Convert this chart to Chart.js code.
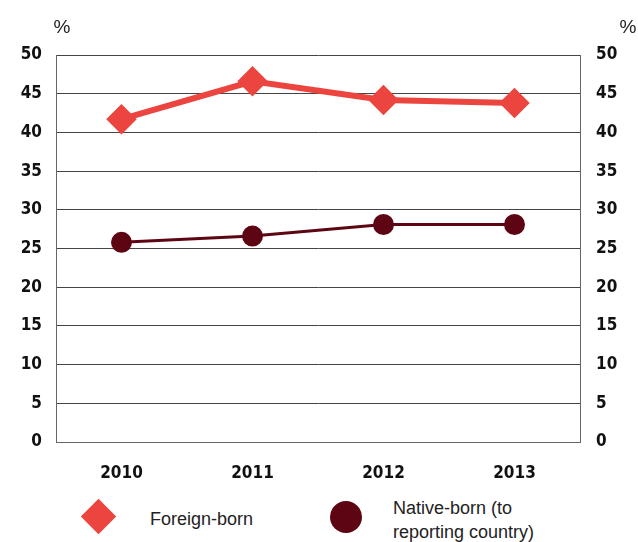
<!DOCTYPE html>
<html lang="en">
<head>
    <meta charset="UTF-8">
    <title>Foreign-born vs native-born</title>
    <script src="https://cdn.jsdelivr.net/npm/chart.js"></script>
    <style>
        body { margin: 0; background: #fff; font-family: "Liberation Sans", Arial, sans-serif; }
        .wrap { position: relative; width: 638px; height: 542px; }
        .leyenda { position: absolute; top: 492px; left: 0; width: 638px; height: 50px; color: #222; font-size: 18px; }
        .item { position: absolute; }
        .rombo { position: absolute; width: 25px; height: 25px; background: #ec4540; transform: rotate(45deg); }
        .circulo { position: absolute; width: 32px; height: 32px; border-radius: 50%; background: #5e0514; }
    </style>
</head>
<body>
<div class="wrap">
    <canvas id="grafico" width="638" height="486"></canvas>
    <div class="leyenda">
        <div class="rombo" style="left:86px; top:12px;"></div>
        <div class="item" style="left:150px; top:17px;">Foreign-born</div>
        <div class="circulo" style="left:330px; top:9px;"></div>
        <div class="item" style="left:393px; top:4px; line-height:24px;">Native-born (to<br>reporting country)</div>
    </div>
</div>
<script>
    const years = ['2010', '2011', '2012', '2013'];
    const foreignBorn = [41.7, 46.6, 44.2, 43.8];
    const nativeBorn = [25.8, 26.6, 28.1, 28.1];

    const tickFont = { family: '"Liberation Sans Narrow", "DejaVu Sans Condensed", sans-serif', size: 17, weight: 'bold' };

    // dibuja los "%" encima de cada eje
    const porcentaje = {
        id: 'porcentaje',
        afterDraw(chart) {
            const c = chart.ctx;
            c.save();
            c.fillStyle = '#222';
            c.font = '19px "Liberation Sans", Arial, sans-serif';
            c.textAlign = 'center';
            c.textBaseline = 'middle';
            c.fillText('%', chart.scales.y.right + 6, 28);
            c.fillText('%', chart.scales.y2.left + 48, 28);
            c.restore();
        }
    };

    const ctx = document.getElementById('grafico').getContext('2d');
    new Chart(ctx, {
        type: 'line',
        data: {
            labels: years,
            datasets: [
                {
                    label: 'Foreign-born',
                    data: foreignBorn,
                    borderColor: '#ec4540',
                    backgroundColor: '#ec4540',
                    borderWidth: 6,
                    pointStyle: 'rectRot',
                    pointRadius: 11,
                    pointHoverRadius: 11,
                    yAxisID: 'y'
                },
                {
                    label: 'Native-born (to reporting country)',
                    data: nativeBorn,
                    borderColor: '#5e0514',
                    backgroundColor: '#5e0514',
                    borderWidth: 3,
                    pointStyle: 'circle',
                    pointRadius: 9,
                    pointHoverRadius: 9,
                    yAxisID: 'y'
                }
            ]
        },
        options: {
            responsive: false,
            animation: false,
            layout: { padding: { top: 55, bottom: 0, left: 0, right: 0 } },
            plugins: { legend: { display: false }, tooltip: { enabled: false } },
            scales: {
                x: {
                    offset: true,
                    grid: { display: false },
                    border: { color: '#666', width: 1 },
                    ticks: { color: '#111', font: tickFont, padding: 13 },
                    afterFit(s) { s.height = 44; }
                },
                y: {
                    position: 'left',
                    min: 0, max: 50,
                    ticks: { stepSize: 5, color: '#111', font: tickFont, padding: 14 },
                    grid: { color: '#444', drawTicks: false },
                    border: { color: '#666' },
                    afterFit(s) { s.width = 56; }
                },
                y2: {
                    position: 'right',
                    min: 0, max: 50,
                    ticks: { stepSize: 5, color: '#111', font: tickFont, padding: 16 },
                    grid: { display: false, drawTicks: false },
                    border: { color: '#666' },
                    afterFit(s) { s.width = 58; }
                }
            }
        },
        plugins: [porcentaje]
    });
</script>
</body>
</html>
